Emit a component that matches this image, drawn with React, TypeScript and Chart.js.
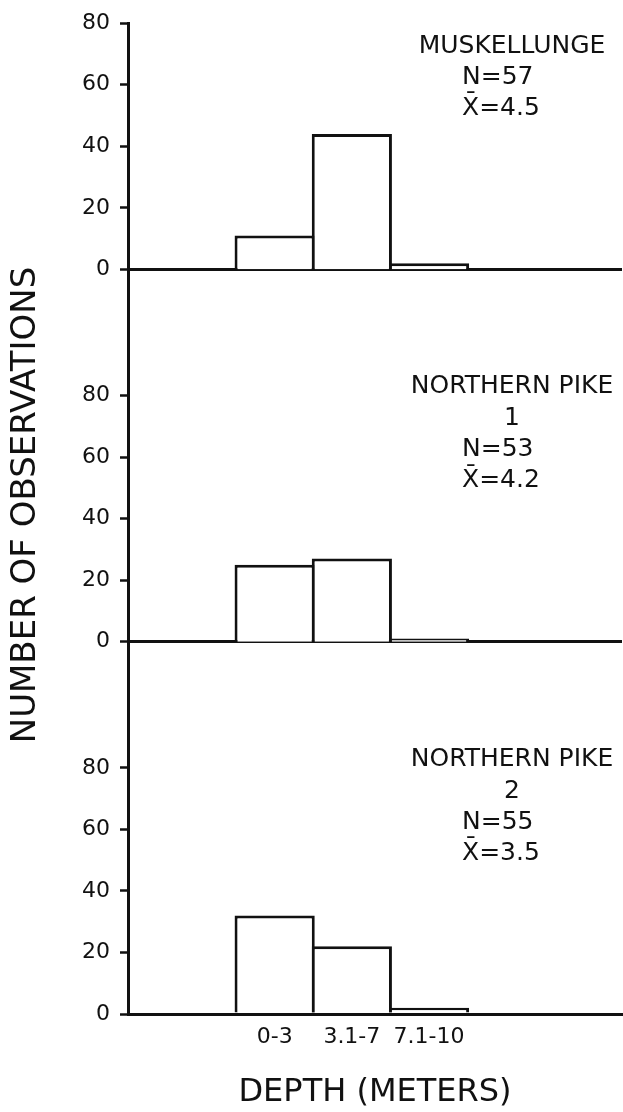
import React, { useEffect, useRef } from "react";
import { Chart, registerables } from "chart.js";

Chart.register(...registerables);

// ---- data ----
const depthBins = ["0-3", "3.1-7", "7.1-10"];
const muskellungeCounts = [11, 44, 2];
const pike1Counts = [25, 27, 1];
const pike2Counts = [32, 22, 2];
const yTickValues = [0, 20, 40, 60, 80];
const panelTitles = [["MUSKELLUNGE"], ["NORTHERN PIKE", "1"], ["NORTHERN PIKE", "2"]];
const panelN = ["N=57", "N=53", "N=55"];
const panelMean = ["X\u0304=4.5", "X\u0304=4.2", "X\u0304=3.5"];
const yTitle = "NUMBER OF OBSERVATIONS";
const xTitle = "DEPTH (METERS)";

// panel layout in value units (each panel occupies one slot on the shared axis)
const PANEL_SLOT = 121;
const panelCounts = [muskellungeCounts, pike1Counts, pike2Counts];
const panelBases = panelCounts.map((_, i) => (panelCounts.length - 1 - i) * PANEL_SLOT);
const Y_MAX = panelBases[0] + 80;

const FONT = '"DejaVu Sans", "Noto Sans", sans-serif';
const INK = "#111";
const BAR_BORDER = 3;

const baseOf = (v: number) => Math.max(...panelBases.filter((b) => b <= v + 1e-6));

const notesPlugin = {
  id: "panelNotes",
  afterDraw(chart: any) {
    const { ctx } = chart;
    const y = chart.scales.y;
    ctx.save();
    ctx.fillStyle = INK;
    ctx.font = `25px ${FONT}`;
    ctx.textBaseline = "middle";
    panelBases.forEach((b, i) => {
      const basePx = y.getPixelForValue(b);
      const titles = panelTitles[i];
      ctx.textAlign = "center";
      titles.forEach((t, j) => {
        ctx.fillText(t, 512, basePx - 223 - (titles.length - 1 - j) * 32);
      });
      ctx.textAlign = "left";
      ctx.fillText(panelN[i], 462, basePx - 192);
      ctx.fillText(panelMean[i], 462, basePx - 161);
    });
    // y-axis title
    ctx.translate(26, 505);
    ctx.rotate(-Math.PI / 2);
    ctx.textAlign = "center";
    ctx.font = `34px ${FONT}`;
    ctx.fillText(yTitle, 0, 0);
    ctx.restore();
  },
};

export default function App() {
  const ref = useRef<HTMLCanvasElement | null>(null);

  useEffect(() => {
    if (!ref.current) return;
    const chart = new Chart(ref.current, {
      type: "bar",
      data: {
        datasets: panelCounts.map((counts, i) => ({
          label: panelTitles[i].join(" "),
          data: counts.map((c, j) => ({ x: j, y: [panelBases[i], panelBases[i] + c] })),
          backgroundColor: "#ffffff",
          borderColor: INK,
          borderWidth: BAR_BORDER,
          borderSkipped: "start",
          grouped: false,
          barPercentage: 1 + BAR_BORDER / 77,
          categoryPercentage: 1,
        })) as any,
      },
      options: {
        animation: false,
        responsive: false,
        devicePixelRatio: 1,
        layout: { padding: { left: 0, right: 1, top: 15, bottom: 0 } },
        plugins: {
          legend: { display: false },
          tooltip: { enabled: false },
        },
        scales: {
          x: {
            type: "linear",
            min: -1.9,
            max: 4.5,
            offset: false,
            z: 1,
            afterBuildTicks: (scale: any) => {
              scale.ticks = depthBins.map((_, i) => ({ value: i }));
            },
            afterFit: (scale: any) => {
              scale.height = 98;
            },
            ticks: {
              autoSkip: false,
              maxRotation: 0,
              padding: 10,
              color: INK,
              font: { family: FONT, size: 22 },
              callback: (v: any) => depthBins[Math.round(Number(v))] ?? "",
            },
            grid: { display: false, drawTicks: false, offset: false },
            border: { display: true, color: INK, width: 3 },
            title: {
              display: true,
              text: xTitle,
              color: INK,
              font: { family: FONT, size: 32 },
              padding: { top: 0, bottom: 0 },
            },
          },
          y: {
            type: "linear",
            min: 0,
            max: Y_MAX,
            z: 1,
            afterBuildTicks: (scale: any) => {
              scale.ticks = panelBases
                .slice()
                .reverse()
                .flatMap((b) => yTickValues.map((v) => ({ value: b + v })));
            },
            afterFit: (scale: any) => {
              scale.width = 128;
            },
            ticks: {
              autoSkip: false,
              padding: 10,
              color: INK,
              font: { family: FONT, size: 22 },
              callback: (v: any) => String(Math.round(Number(v) - baseOf(Number(v)))),
            },
            grid: {
              display: true,
              drawOnChartArea: true,
              color: (ctx: any) => {
                const v = ctx.tick ? ctx.tick.value : -1;
                return panelBases.includes(v) && v !== 0 ? INK : "rgba(0,0,0,0)";
              },
              lineWidth: 3,
              tickColor: INK,
              tickLength: 8,
              tickWidth: 2.5,
            },
            border: { display: true, color: INK, width: 3 },
            title: { display: false, text: yTitle },
          },
        },
      },
      plugins: [notesPlugin],
    });
    return () => chart.destroy();
  }, []);

  return (
    <div style={{ position: "absolute", left: 0, top: 0, width: 623, height: 1112, background: "#fff" }}>
      <canvas ref={ref} width={623} height={1112} />
    </div>
  );
}
